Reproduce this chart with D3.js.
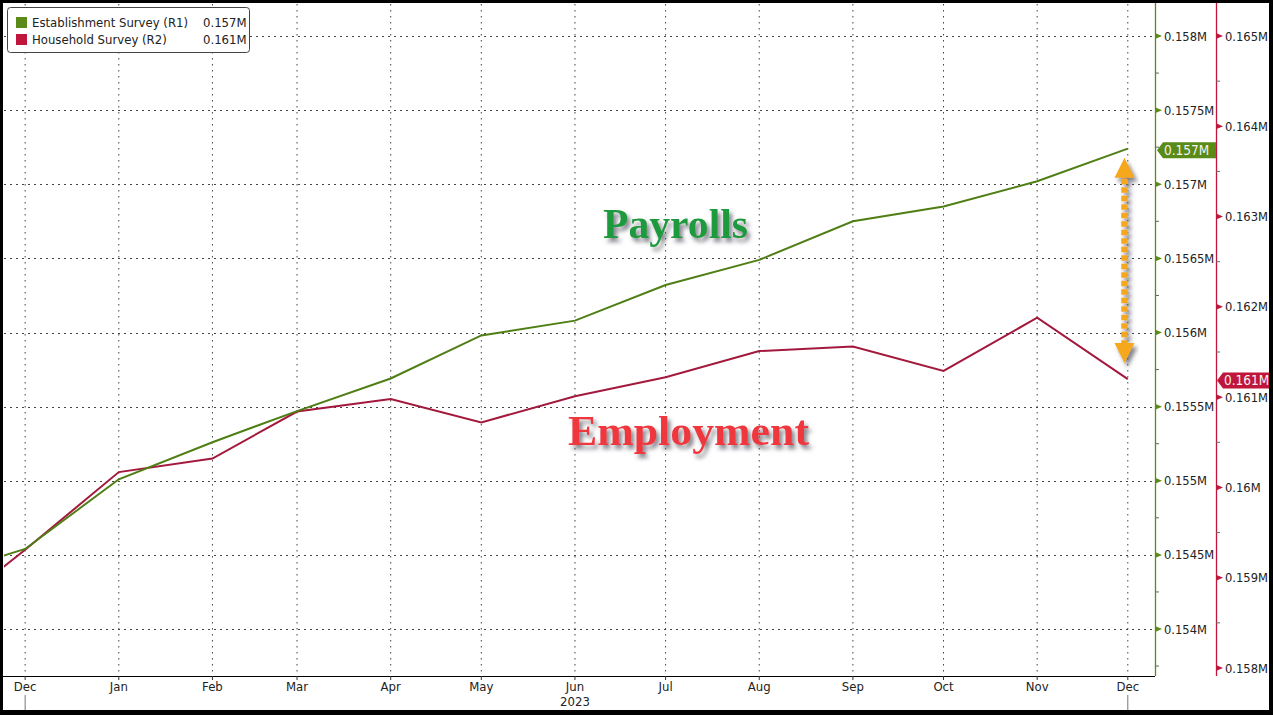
<!DOCTYPE html>
<html>
<head>
<meta charset="utf-8">
<script src="https://cdn.jsdelivr.net/npm/d3@7"></script>
<style>
html,body{margin:0;padding:0;background:#000;}
svg{display:block;}
</style>
</head>
<body>
<svg id="chart" width="1273" height="715"></svg>
<script>
// ---------------- DATA ----------------
const months = ["2022-11-01","2022-12-01","2023-01-01","2023-02-01","2023-03-01","2023-04-01","2023-05-01",
                "2023-06-01","2023-07-01","2023-08-01","2023-09-01","2023-10-01","2023-11-01","2023-12-01"];
// Establishment Survey (R1), millions
const establishment = [0.15435,0.15454,0.15501,0.15526,0.15547,0.15569,0.15598,
                       0.15608,0.15632,0.15649,0.15675,0.15685,0.15702,0.15724];
// Household Survey (R2), millions
const household = [0.15851,0.15931,0.16017,0.16032,0.16084,0.16098,0.16072,
                   0.16101,0.16122,0.16151,0.16156,0.16129,0.16188,0.16120];
const greenTicks = [0.154,0.1545,0.155,0.1555,0.156,0.1565,0.157,0.1575,0.158];
const redTicks = [0.158,0.159,0.16,0.161,0.162,0.163,0.164,0.165];
const monthTickLabels = ["Dec","Jan","Feb","Mar","Apr","May","Jun","Jul","Aug","Sep","Oct","Nov","Dec"];
const seriesNames = ["Establishment Survey (R1)","Household Survey (R2)"];

// ---------------- LAYOUT ----------------
const parse = d3.timeParse("%Y-%m-%d");
const dates = months.map(parse);
const GREEN = "#5a8a17", GREEN_LINE = "#4f7f14";
const RED = "#c0163b", RED_LINE = "#a3193d";
const FONT = "'DejaVu Sans Condensed','Liberation Sans',Arial,sans-serif";

const plot = {left:4, right:1155, top:4, bottom:676};
const x = d3.scaleTime().domain([new Date(2022,10,24), new Date(2023,11,10)]).range([plot.left, plot.right]);
const yG = d3.scaleLinear().domain([0.154,0.158]).range([629,36]);
const yR = d3.scaleLinear().domain([0.158,0.165]).range([668,36]);

const svg = d3.select("#chart");
const defs = svg.append("defs");
defs.append("clipPath").attr("id","clip").append("rect")
  .attr("x",plot.left).attr("y",plot.top).attr("width",plot.right-plot.left).attr("height",plot.bottom-plot.top);
const sh = defs.append("filter").attr("id","shadow").attr("x","-20%").attr("y","-30%").attr("width","140%").attr("height","170%");
sh.append("feDropShadow").attr("dx",3).attr("dy",4).attr("stdDeviation",2.2).attr("flood-color","#5a5a66").attr("flood-opacity",0.75);

// white canvas inside black frame
svg.append("rect").attr("x",3).attr("y",3).attr("width",1266).attr("height",707).attr("fill","#fff");

const tickDates = d3.timeMonth.range(new Date(2022,11,1), new Date(2023,11,2));
const fmtG = d3.format(".4~r"), fmtR = d3.format(".3~r");

// gridlines
const grid = svg.append("g");
grid.selectAll("line.v").data(tickDates).join("line")
  .attr("x1",d=>x(d)).attr("x2",d=>x(d)).attr("y1",plot.top).attr("y2",plot.bottom)
  .attr("stroke","#444").attr("stroke-width",1).attr("stroke-dasharray","1.5,4.5");
grid.selectAll("line.h").data(greenTicks).join("line")
  .attr("x1",plot.left).attr("x2",plot.right).attr("y1",d=>Math.round(yG(d))+0.5).attr("y2",d=>Math.round(yG(d))+0.5)
  .attr("stroke","#444").attr("stroke-width",1).attr("stroke-dasharray","2,4");

// x axis
const xa = svg.append("g");
xa.append("line").attr("x1",3).attr("x2",plot.right).attr("y1",plot.bottom+0.5).attr("y2",plot.bottom+0.5)
  .attr("stroke","#000").attr("stroke-width",1.2);
xa.selectAll("line.t").data(tickDates).join("line")
  .attr("x1",d=>x(d)).attr("x2",d=>x(d)).attr("y1",plot.bottom).attr("y2",plot.bottom+4).attr("stroke","#333");
xa.selectAll("text").data(tickDates).join("text")
  .attr("x",d=>x(d)).attr("y",691).attr("text-anchor","middle")
  .attr("font-family",FONT).attr("font-size",13).attr("fill","#222")
  .text((d,i)=>monthTickLabels[i]);
xa.append("text").attr("x",x(new Date(2023,5,1))).attr("y",706).attr("text-anchor","middle")
  .attr("font-family",FONT).attr("font-size",13).attr("fill","#222").text("2023");
[new Date(2022,11,1), new Date(2023,11,1)].forEach(d=>{
  xa.append("line").attr("x1",x(d)).attr("x2",x(d)).attr("y1",695).attr("y2",710).attr("stroke","#777");
});

// right axes
const gx = 1155, rx = 1216;
const ga = svg.append("g");
ga.append("line").attr("x1",gx+0.5).attr("x2",gx+0.5).attr("y1",3).attr("y2",plot.bottom).attr("stroke",GREEN).attr("stroke-width",1.3);
ga.selectAll("path").data(greenTicks).join("path")
  .attr("d",d=>{const y=yG(d);return `M${gx},${y-3}L${gx+7},${y}L${gx},${y+3}Z`;}).attr("fill",GREEN);
ga.selectAll("line.m").data([greenTicks[0]-0.00025].concat(greenTicks.slice(0,-1).map(d=>d+0.00025))).join("line")
  .attr("x1",gx).attr("x2",gx+4).attr("y1",d=>yG(d)).attr("y2",d=>yG(d)).attr("stroke","#666");
ga.selectAll("text").data(greenTicks).join("text")
  .attr("x",gx+9).attr("y",d=>yG(d)).attr("dy","0.36em")
  .attr("font-family",FONT).attr("font-size",12.8).attr("fill","#222").text(d=>fmtG(d)+"M");

const ra = svg.append("g");
ra.append("line").attr("x1",rx+0.5).attr("x2",rx+0.5).attr("y1",3).attr("y2",plot.bottom).attr("stroke",RED).attr("stroke-width",1.3);
ra.selectAll("path").data(redTicks).join("path")
  .attr("d",d=>{const y=yR(d);return `M${rx},${y-3}L${rx+7},${y}L${rx},${y+3}Z`;}).attr("fill",RED);
ra.selectAll("line.m").data(redTicks.slice(0,-1).map(d=>d+0.0005)).join("line")
  .attr("x1",rx).attr("x2",rx+4).attr("y1",d=>yR(d)).attr("y2",d=>yR(d)).attr("stroke","#666");
ra.selectAll("text").data(redTicks).join("text")
  .attr("x",rx+9).attr("y",d=>yR(d)).attr("dy","0.36em")
  .attr("font-family",FONT).attr("font-size",12.8).attr("fill","#222").text(d=>fmtR(d)+"M");

// lines
const lines = svg.append("g").attr("clip-path","url(#clip)");
lines.append("path").datum(household)
  .attr("d",d3.line().x((d,i)=>x(dates[i])).y(d=>yR(d)))
  .attr("fill","none").attr("stroke",RED_LINE).attr("stroke-width",2);
lines.append("path").datum(establishment)
  .attr("d",d3.line().x((d,i)=>x(dates[i])).y(d=>yG(d)))
  .attr("fill","none").attr("stroke",GREEN_LINE).attr("stroke-width",2);

// last value tags
const lastG = establishment[establishment.length-1], lastR = household[household.length-1];
function tag(x0, x1, y, color, txt){
  const g = svg.append("g");
  g.append("path").attr("d",`M${x0},${y}L${x0+6},${y-8}L${x1},${y-8}L${x1},${y+8}L${x0+6},${y+8}Z`).attr("fill",color);
  g.append("text").attr("x",x0+7).attr("y",y).attr("dy","0.36em").attr("font-family",FONT)
    .attr("font-size",13.5).attr("fill","#f2f2f2").text(txt);
}
tag(gx+2, rx, yG(lastG)+1.5, GREEN, fmtR(lastG)+"M");
tag(rx+1, 1269, yR(lastR)+1.5, RED, fmtR(lastR)+"M");

// annotations
svg.append("text").attr("x",603).attr("y",238).attr("font-family","'Liberation Serif','Times New Roman',serif")
  .attr("font-weight","bold").attr("font-size",42).attr("fill","#1f9a3e").attr("filter","url(#shadow)")
  .attr("textLength",145).attr("lengthAdjust","spacingAndGlyphs").text("Payrolls");
svg.append("text").attr("x",568).attr("y",445).attr("font-family","'Liberation Serif','Times New Roman',serif")
  .attr("font-weight","bold").attr("font-size",42).attr("fill","#ef373e").attr("filter","url(#shadow)")
  .attr("textLength",241).attr("lengthAdjust","spacingAndGlyphs").text("Employment");

// orange double arrow
const ax = 1124.5, aTop = yG(lastG)+9, aBot = yR(lastR)-16;
const arr = svg.append("g").attr("filter","url(#shadow)");
const ORANGE = "#f6a81c";
arr.append("line").attr("x1",ax).attr("x2",ax).attr("y1",aTop+21).attr("y2",aBot-20)
  .attr("stroke",ORANGE).attr("stroke-width",6.5).attr("stroke-dasharray","5.5,3");
arr.append("path").attr("d",`M${ax},${aTop}L${ax+10},${aTop+20}L${ax-10},${aTop+20}Z`).attr("fill",ORANGE);
arr.append("path").attr("d",`M${ax},${aBot}L${ax+10},${aBot-20}L${ax-10},${aBot-20}Z`).attr("fill",ORANGE);

// legend
const lg = svg.append("g");
lg.append("rect").attr("x",7.5).attr("y",7.5).attr("width",242).attr("height",45).attr("rx",3)
  .attr("fill","#fff").attr("stroke","#444").attr("stroke-width",1);
const legVals = [fmtR(lastG)+"M", fmtR(lastR)+"M"];
[GREEN, RED].forEach((c,i)=>{
  const yy = 17 + i*17;
  lg.append("rect").attr("x",16).attr("y",yy).attr("width",11).attr("height",11).attr("fill",c);
  lg.append("text").attr("x",32).attr("y",yy+5.5).attr("dy","0.36em").attr("font-family",FONT)
    .attr("font-size",13).attr("fill","#222").text(seriesNames[i]);
  lg.append("text").attr("x",203).attr("y",yy+5.5).attr("dy","0.36em").attr("font-family",FONT)
    .attr("font-size",13).attr("fill","#222").text(legVals[i]);
});
</script>
</body>
</html>
